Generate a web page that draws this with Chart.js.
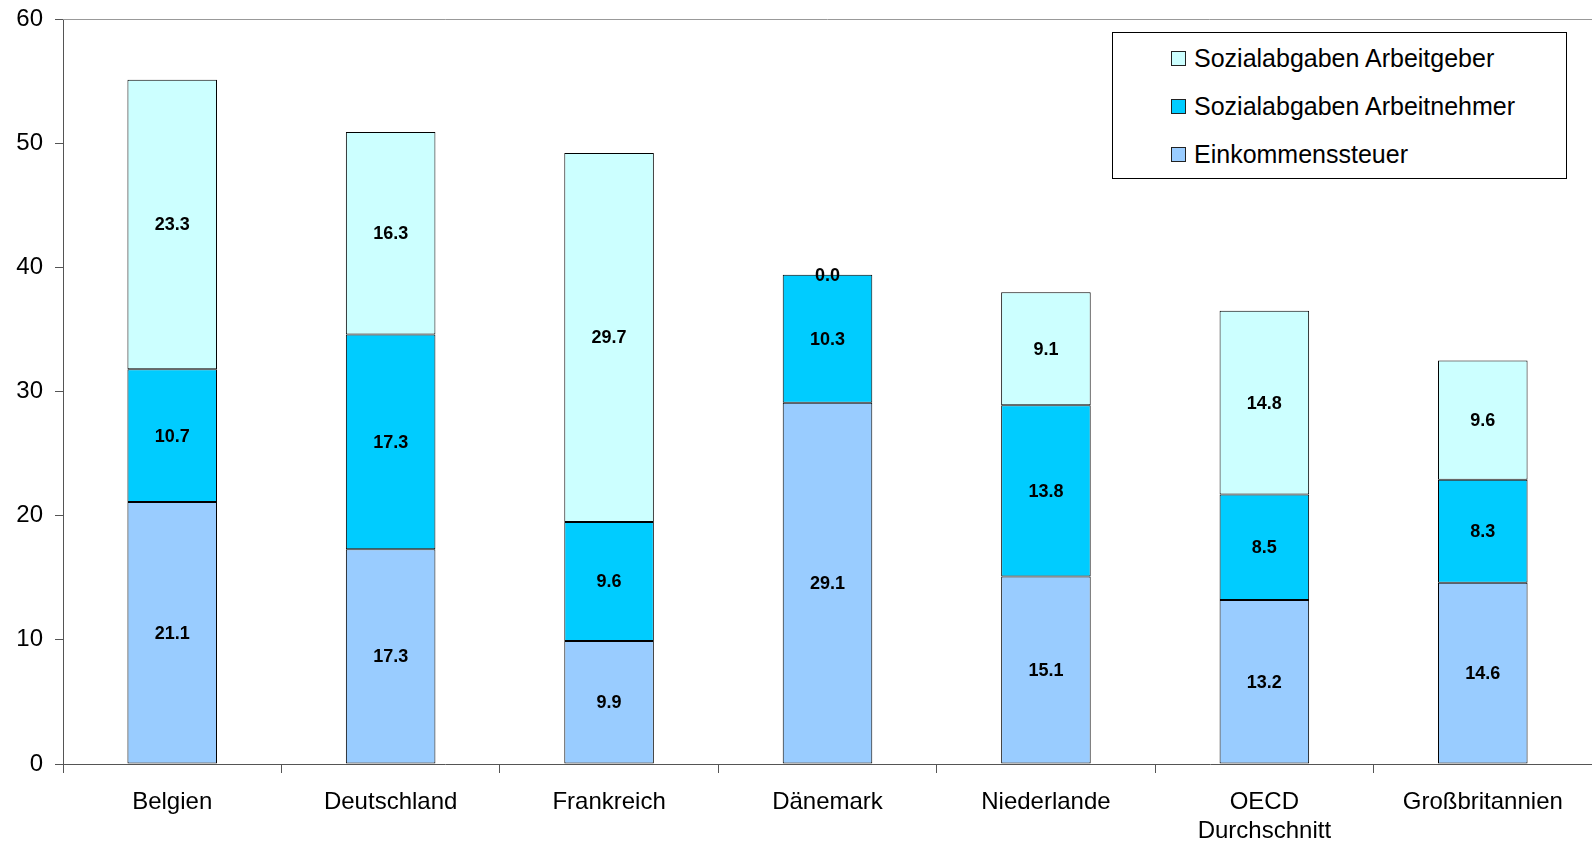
<!DOCTYPE html>
<html>
<head>
<meta charset="utf-8">
<script src="https://cdn.jsdelivr.net/npm/chart.js@4/dist/chart.umd.min.js"></script>
<style>
  body { margin: 0; background: #fff; }
  #wrap { position: relative; width: 1592px; height: 845px; }
  #legend {
    position: absolute; left: 1112px; top: 32px; width: 453px; height: 145px;
    border: 1px solid #000; background: #fff;
    font-family: "Liberation Sans", Arial, sans-serif; font-size: 25px; color: #000;
  }
  #legend .item { position: absolute; left: 58px; height: 28px; line-height: 28px; white-space: nowrap; }
  #legend .box { display: inline-block; width: 13px; height: 13px; border: 1px solid #222; margin-right: 8px; vertical-align: 1px; }
</style>
</head>
<body>
<div id="wrap">
  <canvas id="bar"></canvas>
  <div id="legend"></div>
</div>
<script>
// Länder
let laender = ['Belgien', 'Deutschland', 'Frankreich', 'Dänemark', 'Niederlande', ['OECD', 'Durchschnitt'], 'Großbritannien']

// Anteile je Land (in %)
let einkommenssteuer = [21.1, 17.3, 9.9, 29.1, 15.1, 13.2, 14.6]
let sozArbeitnehmer = [10.7, 17.3, 9.6, 10.3, 13.8, 8.5, 8.3]
let sozArbeitgeber = [23.3, 16.3, 29.7, 0.0, 9.1, 14.8, 9.6]

// y-Achse
let yTicks = [0, 10, 20, 30, 40, 50, 60]

let serien = [
    { label: 'Einkommenssteuer', data: einkommenssteuer, color: '#99ccff' },
    { label: 'Sozialabgaben Arbeitnehmer', data: sozArbeitnehmer, color: '#00ccff' },
    { label: 'Sozialabgaben Arbeitgeber', data: sozArbeitgeber, color: '#ccffff' },
]

// Werte in die Balken schreiben
const werteLabels = {
    id: 'werteLabels',
    afterDatasetsDraw(chart) {
        let ctx = chart.ctx
        ctx.save()
        ctx.font = 'bold 18px "Liberation Sans", Arial, sans-serif'
        ctx.fillStyle = '#000'
        ctx.textAlign = 'center'
        ctx.textBaseline = 'middle'
        chart.data.datasets.forEach((ds, i) => {
            chart.getDatasetMeta(i).data.forEach((bar, j) => {
                let p = bar.getProps(['x', 'y', 'base'], true)
                ctx.fillText(ds.data[j].toFixed(1), p.x, (p.y + p.base) / 2 + 1)
            })
        })
        ctx.restore()
    }
}

// obere Rahmenlinie
const rahmen = {
    id: 'rahmen',
    beforeDatasetsDraw(chart) {
        let a = chart.chartArea
        let ctx = chart.ctx
        ctx.save()
        ctx.strokeStyle = '#999'
        ctx.lineWidth = 1
        ctx.beginPath()
        ctx.moveTo(a.left, a.top + 0.5)
        ctx.lineTo(a.right, a.top + 0.5)
        ctx.stroke()
        ctx.restore()
    }
}

function setBarChart() {
    let bar = document.getElementById('bar').getContext('2d')
    new Chart(bar, {
        type: 'bar',
        data: {
            labels: laender,
            datasets: serien.map(s => ({
                label: s.label,
                data: s.data,
                backgroundColor: s.color,
                borderColor: '#000',
                borderWidth: 1,
                borderSkipped: false,
                categoryPercentage: 1,
                barPercentage: 0.41,
            })),
        },
        options: {
            responsive: true,
            maintainAspectRatio: false,
            animation: false,
            layout: { padding: { top: 19, right: 0, left: 0, bottom: 0 } },
            plugins: {
                legend: { display: false },
                tooltip: { enabled: false },
            },
            scales: {
                x: {
                    stacked: true,
                    grid: { drawOnChartArea: false, tickLength: 9, color: '#555', offset: true },
                    border: { color: '#555' },
                    ticks: {
                        color: '#000',
                        padding: 15,
                        maxRotation: 0,
                        font: { family: '"Liberation Sans", Arial, sans-serif', size: 24 },
                    },
                    afterFit(scale) { scale.height = 81 },
                },
                y: {
                    stacked: true,
                    min: 0,
                    max: 60,
                    afterBuildTicks(scale) { scale.ticks = yTicks.map(v => ({ value: v })) },
                    grid: { drawOnChartArea: false, tickLength: 8, color: '#555' },
                    border: { color: '#555' },
                    ticks: {
                        color: '#000',
                        padding: 12,
                        font: { family: '"Liberation Sans", Arial, sans-serif', size: 24 },
                    },
                    afterFit(scale) {
                        scale.width = 63
                        scale.paddingTop = 0
                        scale.paddingBottom = 0
                    },
                },
            },
        },
        plugins: [werteLabels, rahmen],
    })
}

// Legende (oberste Reihe zuerst)
function setLegend() {
    let legend = document.getElementById('legend')
    let tops = [11, 59, 107]
    serien.slice().reverse().forEach((s, i) => {
        let item = document.createElement('div')
        item.className = 'item'
        item.style.top = tops[i] + 'px'
        item.innerHTML = '<span class="box" style="background:' + s.color + '"></span>' + s.label
        legend.appendChild(item)
    })
}

setBarChart()
setLegend()
</script>
</body>
</html>
